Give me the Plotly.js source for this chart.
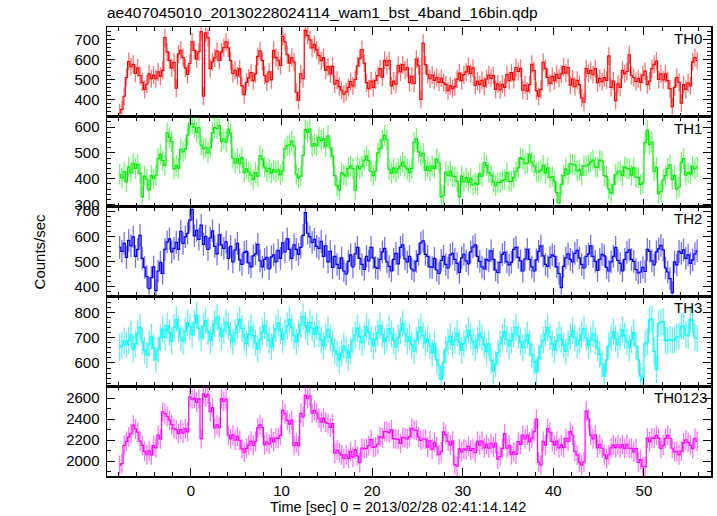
<!DOCTYPE html>
<html><head><meta charset="utf-8">
<script src="https://cdn.plot.ly/plotly-3.0.1.min.js"></script>
<style>body{margin:0;background:#fff}#chart{width:717px;height:516px}</style>
</head><body><div id="chart"></div>
<script>
// bin centres: first bin centre and bin width (0.25 s, 16 x 1/64 s)
const tStart = -7.875;
const binWidth = 0.25;
const panelLabels = ['TH0', 'TH1', 'TH2', 'TH3', 'TH0123'];
const chartTitle = 'ae407045010_20130228024114_wam1_bst_4band_16bin.qdp';
const xTitle = 'Time [sec] 0 = 2013/02/28 02:41:14.142';
const yTitle = 'Counts/sec';

const th0 = [
335,352,418,512, 592,566,578,532, 560,522,488,452, 478,530,506,524,
506,540,518,548, 712,640,598,560, 588,458,630,648, 612,560,528,582,
690,648,604,640, 742,418,736,712, 556,590,610,644, 598,640,662,690,
660,596,532,548, 520,556,470,426, 488,510,536,496, 530,618,646,596,
522,490,540,500, 648,612,596,572, 718,690,626,584, 612,590,438,398,
530,506,748,722, 700,660,678,650, 622,596,612,548, 566,530,568,478,
498,466,448,428, 440,462,492,470, 502,570,608,652, 584,486,456,494,
462,498,522,556, 514,598,572,596, 470,494,478,572, 540,576,550,562,
486,518,482,604, 570,402,684,576, 528,506,524,498, 512,488,508,486,
476,446,470,456, 466,504,534,496, 526,540,568,532, 560,472,494,476,
498,468,504,524, 508,522,452,480, 450,478,462,526, 496,536,500,562,
542,558,448,474, 444,476,578,546, 446,418,452,588, 556,512,482,518,
496,528,508,530, 566,534,562,474, 504,466,498,476, 410,388,556,532,
548,526,556,486, 508,490,512,498, 620,462,494,396, 480,462,548,530,
542,626,522,512, 492,506,488,524, 544,476,494,556, 578,594,502,530,
500,530,496,456, 366,462,512,488, 384,476,452,484, 470,590,612,596];

const th1 = [
418,402,428,388, 446,424,460,440, 456,422,330,410, 398,356,412,400,
414,478,494,470, 452,578,560,544, 438,452,440,514, 504,516,570,616,
614,600,580,598, 530,516,520,500, 520,578,598,594, 606,544,554,542,
592,576,480,460, 478,458,482,424, 438,426,414,396, 424,410,490,476,
446,428,440,422, 434,426,434,416, 430,516,528,530, 546,526,418,402,
410,490,590,580, 592,526,536,528, 560,548,556,524, 566,520,488,412,
372,356,424,416, 410,440,450,440, 356,450,438,448, 472,488,470,428,
412,430,500,518, 550,568,552,436, 422,442,424,438, 450,464,448,438,
424,440,542,556, 504,488,498,432, 448,430,450,440, 476,462,330,336,
426,412,430,410, 408,390,330,410, 388,404,386,402, 376,384,378,420,
410,462,452,424, 414,388,372,386, 386,394,396,424, 390,390,404,428,
442,482,476,458, 460,494,464,450, 426,426,432,452, 422,442,404,408,
390,346,306,378, 412,438,418,458, 456,454,430,434, 414,450,450,454,
464,472,446,444, 472,468,412,408, 360,344,376,416, 426,430,412,446,
440,438,414,442, 406,404,378,384, 540,588,532,542, 428,444,342,350,
396,412,440,454, 396,412,360,368, 462,478,414,424, 418,448,438,446];

const th2 = [
556,540,572,516, 584,562,598,520, 548,604,512,476, 440,392,436,478,
384,462,496,452, 548,578,590,538, 552,576,548,620, 572,598,612,664,
706,602,624,588, 644,568,600,548, 594,622,560,530, 606,566,552,578,
512,560,498,546, 572,506,488,536, 540,494,478,522, 530,568,502,478,
508,516,470,518, 526,498,544,512, 574,538,590,548, 512,566,548,528,
556,604,694,612, 598,576,588,560, 552,580,520,562, 498,540,476,520,
488,472,514,462, 450,500,526,478, 530,556,512,488, 468,520,502,556,
514,476,472,508, 538,552,498,480, 462,508,532,490, 556,566,510,498,
520,470,462,500, 528,574,582,528, 520,478,476,512, 466,452,504,520,
488,474,526,532, 508,492,456,514, 528,502,490,538, 558,566,520,500,
478,470,508,502, 542,508,466,456, 496,528,536,498, 486,496,548,556,
516,502,462,510, 548,508,478,462, 506,540,562,522, 488,480,516,526,
520,478,452,396, 480,514,530,508, 498,532,544,514, 488,474,520,530,
562,520,500,464, 508,528,522,476, 462,498,520,556, 504,492,462,508,
536,546,508,500, 468,454,458,476, 460,548,540,502, 486,538,550,564,
546,474,458,432, 376,498,486,540, 532,546,512,526, 492,506,530,542];

const th3 = [
662,668,688,672, 690,712,654,676, 718,742,686,650, 632,676,704,660,
612,654,700,734, 702,748,720,686, 740,772,734,700, 688,726,760,744,
712,758,790,736, 700,744,768,724, 690,718,756,782, 738,704,728,762,
746,712,684,720, 748,772,736,702, 676,714,742,708, 680,656,692,724,
748,716,690,664, 702,736,760,728, 694,720,748,772, 740,708,684,716,
752,784,748,722, 760,738,712,744, 716,692,668,704, 732,700,676,648,
636,612,640,668, 652,620,648,690, 712,738,704,682, 708,744,722,696,
668,694,720,748, 712,684,702,736, 716,690,664,700, 728,756,718,686,
704,672,648,690, 724,742,708,680, 696,668,640,676, 612,588,536,602,
652,684,706,672, 690,718,682,650, 676,702,730,708, 684,660,692,718,
700,672,644,676, 610,568,596,640, 676,702,724,694, 668,690,716,742,
708,684,660,688, 712,676,632,606, 564,618,664,690, 716,740,704,676,
652,688,712,694, 670,646,676,704, 728,700,672,690, 712,736,700,668,
692,716,688,660, 634,596,548,612, 668,700,724,696, 672,704,732,708,
684,660,692,720, 668,612,548,530, 676,684,770,774, 646,574,756,762,
764,690,688,694, 690,692,704,706, 744,746,712,708, 772,768,702,698];

const th0123 = [
1958,1976,2150,2188, 2228,2262,2342,2306, 2276,2190,2150,2092, 2060,2096,2058,2146,
2124,2248,2212,2470, 2452,2426,2390,2348, 2310,2298,2262,2300, 2266,2310,2278,2612,
2590,2600,2560,2596, 2214,2640,2612,2636, 2470,2510,2316,2344, 2318,2596,2570,2590,
2248,2212,2250,2198, 2236,2196,2116,2084, 2120,2152,2190,2150, 2188,2316,2344,2320,
2156,2184,2160,2218, 2182,2220,2216,2244, 2486,2452,2388,2352, 2390,2146,2176,2144,
2456,2422,2626,2594, 2620,2456,2484,2458, 2408,2372,2410,2372, 2358,2320,2356,2076,
2104,2078,2058,2024, 2060,2022,2092,2038, 2110,2050,1984,2124, 2116,2120,2146,2204,
2130,2136,2160,2230, 2220,2284,2280,2270, 2298,2214,2212,2206, 2168,2226,2220,2212,
2232,2312,2296,2292, 2228,2196,2210,2208, 2132,2192,2114,2178, 2136,2060,2088,2278,
2252,2188,2152,2190, 1966,1950,2116,2088, 2114,2104,2140,2102, 2118,2080,2188,2152,
2190,2124,2160,2122, 2168,2132,2172,2018, 2044,2120,2262,2122, 2150,2060,2088,2062,
2186,2158,2248,2212, 2248,2182,2218,2280, 2400,1990,1962,2188, 2152,2310,2276,2188,
2152,2190,2126,2154, 2128,2216,2188,2282, 2246,2092,2058,1990, 1960,1992,2476,2402,
2248,2212,2250,2124, 2160,2122,2058,2022, 2060,2126,2154,2128, 2154,2126,2156,2120,
2160,2122,2120,2088, 2118,1986,2014,1946, 1944,2218,2182,2220, 2216,2244,2218,2120,
2150,2216,2244,2216, 2122,2088,2092,2058, 2094,2174,2202,2178, 2152,2118,2216,2188];

// 1-sigma errors per panel (counts/sec)
const errSize = [45, 40, 45, 53, 94];

const series = [th0, th1, th2, th3, th0123];
const lineColors = ['#ff0000', '#00ee00', '#0000ff', '#00ffff', '#ff00ff'];
const errColors = ['rgba(255,0,0,0.55)', 'rgba(0,238,0,0.55)', 'rgba(0,0,255,0.55)', 'rgba(0,230,230,0.6)', 'rgba(255,0,255,0.55)'];
const yRanges = [[315, 765], [292, 640], [361, 718], [508, 864], [1857, 2714]];
const yMajor = [100, 100, 100, 100, 200];
const yMinor = [20, 20, 20, 20, 100];
const labelShift = [-7, -7, -7, -7, -2];

const times = th0.map((_, i) => tStart + i * binWidth);
const fam = 'Liberation Sans, Arial, sans-serif';
const font = {family: fam, size: 15, color: '#000'};
const nP = series.length;
const traces = [];
const layout = {
  width: 717, height: 516,
  margin: {l: 107, r: 6, t: 27, b: 40},
  paper_bgcolor: '#fff', plot_bgcolor: '#fff',
  showlegend: false,
  font: font,
  title: {text: chartTitle, x: 107 / 717, xanchor: 'left', y: 1 - 13 / 516, yanchor: 'middle', font: {family: fam, size: 15.5, color: '#000'}},
  annotations: []
};
for (let i = 0; i < nP; i++) {
  const s = i === 0 ? '' : String(i + 1);
  traces.push({
    x: times, y: series[i], type: 'scatter', mode: 'lines',
    line: {color: lineColors[i], width: 1.2, shape: 'hvh'},
    error_y: {type: 'constant', value: errSize[i], color: errColors[i], thickness: 1.3, width: 0},
    xaxis: 'x' + s, yaxis: 'y' + s, hoverinfo: 'skip'
  });
  const top = 1 - i / nP, bot = 1 - (i + 1) / nP;
  layout['xaxis' + s] = {
    domain: [0, 1], anchor: 'y' + s, range: [-9.27, 57.4],
    dtick: 10, tick0: 0, ticks: 'inside', ticklen: 8, tickwidth: 1, tickcolor: '#000',
    minor: {dtick: 2, ticks: 'inside', ticklen: 4, tickcolor: '#000', showgrid: false},
    showline: true, linecolor: '#000', linewidth: 1.5, mirror: 'allticks',
    showgrid: false, zeroline: false, showticklabels: i === nP - 1,
    tickfont: font, ticklabelstandoff: 0
  };
  layout['yaxis' + s] = {
    domain: [bot, top], anchor: 'x' + s, range: yRanges[i],
    dtick: yMajor[i], tick0: 0, ticks: 'inside', ticklen: 8, tickwidth: 1, tickcolor: '#000',
    minor: {dtick: yMinor[i], ticks: 'inside', ticklen: 4, tickcolor: '#000', showgrid: false},
    showline: true, linecolor: '#000', linewidth: 1.5, mirror: 'allticks',
    showgrid: false, zeroline: false, tickfont: font, ticklabelstandoff: 3
  };
  layout.annotations.push({
    text: panelLabels[i], xref: 'paper', yref: 'y' + s + ' domain', x: 1, y: 1,
    xanchor: 'right', yanchor: 'top', xshift: labelShift[i], yshift: -1, showarrow: false,
    font: font
  });
}
layout.annotations.push({
  text: yTitle, xref: 'paper', yref: 'paper', x: -0.111, y: 0.5, textangle: -90,
  xanchor: 'center', yanchor: 'middle', showarrow: false, font: font
});
layout.annotations.push({
  text: xTitle, xref: 'paper', yref: 'paper', x: 0.482, y: -0.0695,
  xanchor: 'center', yanchor: 'middle', showarrow: false, font: {family: fam, size: 14.5, color: '#000'}
});
Plotly.newPlot('chart', traces, layout, {staticPlot: true, displayModeBar: false});
</script>
</body></html>
